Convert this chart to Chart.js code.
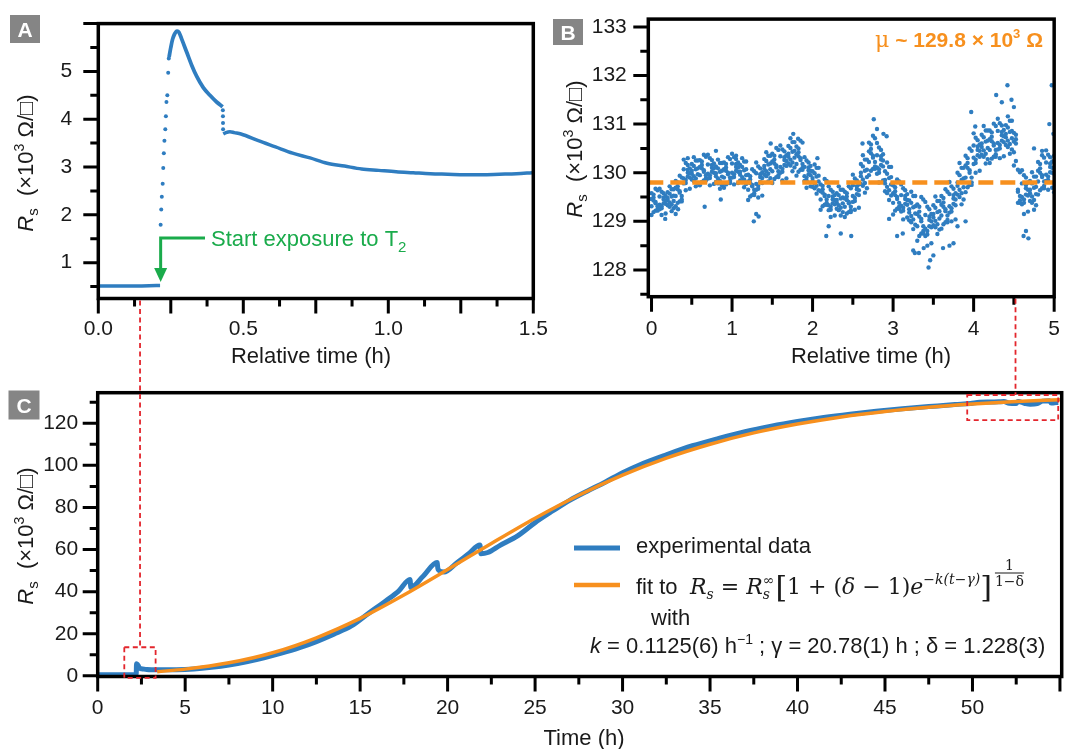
<!DOCTYPE html>
<html><head><meta charset="utf-8">
<script src="https://cdn.jsdelivr.net/npm/chart.js@4.4.1/dist/chart.umd.min.js"></script>
<style>
html,body{margin:0;padding:0;background:#fff;}
#wrap{position:relative;width:1065px;height:749px;overflow:hidden;background:#fff;}
#wrap canvas{position:absolute;left:0;top:0;}
</style></head><body>
<div id="wrap">
<canvas id="cA" width="1065" height="749"></canvas>
<canvas id="cB" width="1065" height="749"></canvas>
<canvas id="cC" width="1065" height="749"></canvas>
<canvas id="ov" width="1065" height="749"></canvas>
</div>
<script>
// ---------------- DATA ----------------
// Panel A : Rs (x10^3 ohm/sq) vs relative time (h)
const aFlatT  = [0, 0.05, 0.1, 0.15, 0.2, 0.213];
const aFlatRs = [0.51, 0.51, 0.51, 0.51, 0.52, 0.52];
const aRiseT  = [0.215,0.217,0.219,0.222,0.224,0.226,0.228,0.231,0.233,0.235,0.238,0.241,0.243];
const aRiseRs = [1.79,2.11,2.38,2.65,2.98,3.29,3.55,3.79,4.06,4.36,4.50,4.97,5.27];
const aPeakT  = [0.244,0.25,0.256,0.262,0.268,0.272,0.278,0.288,0.305,0.322,0.339,0.362,0.385,0.408,0.429];
const aPeakRs = [5.30,5.50,5.67,5.77,5.83,5.84,5.82,5.67,5.40,5.13,4.90,4.66,4.50,4.36,4.26];
const aDropT  = [0.4295,0.4298,0.4300,0.4303];
const aDropRs = [4.19,4.06,3.92,3.79];
const aTailT  = [0.431,0.44,0.454,0.469,0.492,0.552,0.611,0.670,0.730,0.789,0.849,0.908,0.967,1.027,1.086,1.145,1.205,1.264,1.323,1.383,1.442,1.496];
const aTailRs = [3.69,3.72,3.74,3.72,3.69,3.55,3.42,3.29,3.19,3.08,3.02,2.96,2.93,2.90,2.88,2.86,2.85,2.84,2.84,2.85,2.86,2.88];

// Panel B : Rs (x10^3 ohm/sq) vs relative time (h), four readings per time stamp + outliers
const bTime = [0,0.025,0.05,0.075,0.1,0.125,0.15,0.175,0.2,0.225,0.25,0.275,0.3,0.325,0.35,0.375,0.4,0.425,0.45,0.475,
0.5,0.525,0.55,0.575,0.6,0.625,0.65,0.675,0.7,0.725,0.75,0.775,0.8,0.825,0.85,0.875,0.9,0.925,0.95,0.975,
1,1.025,1.05,1.075,1.1,1.125,1.15,1.175,1.2,1.225,1.25,1.275,1.3,1.325,1.35,1.375,1.4,1.425,1.45,1.475,
1.5,1.525,1.55,1.575,1.6,1.625,1.65,1.675,1.7,1.725,1.75,1.775,1.8,1.825,1.85,1.875,1.9,1.925,1.95,1.975,
2,2.025,2.05,2.075,2.1,2.125,2.15,2.175,2.2,2.225,2.25,2.275,2.3,2.325,2.35,2.375,2.4,2.425,2.45,2.475,
2.5,2.525,2.55,2.575,2.6,2.625,2.65,2.675,2.7,2.725,2.75,2.775,2.8,2.825,2.85,2.875,2.9,2.925,2.95,2.975,
3,3.025,3.05,3.075,3.1,3.125,3.15,3.175,3.2,3.225,3.25,3.275,3.3,3.325,3.35,3.375,3.4,3.425,3.45,3.475,
3.5,3.525,3.55,3.575,3.6,3.625,3.65,3.675,3.7,3.725,3.75,3.775,3.8,3.825,3.85,3.875,3.9,3.925,3.95,3.975,
4,4.025,4.05,4.075,4.1,4.125,4.15,4.175,4.2,4.225,4.25,4.275,4.3,4.325,4.35,4.375,4.4,4.425,4.45,4.475,
4.5,4.525,4.55,4.575,4.6,4.625,4.65,4.675,4.7,4.725,4.75,4.775,4.8,4.825,4.85,4.875,4.9,4.925,4.95,4.975,5];
const bRsA = [129.46,129.19,129.67,129.31,129.25,129.61,129.37,129.52,129.60,129.39,129.21,129.66,129.69,129.38,129.94,129.52,129.78,130.20,129.92,130.09,
130.18,129.93,129.72,130.25,130.12,129.81,130.37,129.95,129.88,130.30,130.02,130.19,130.13,129.88,129.67,130.20,130.07,129.76,130.32,129.90,
129.90,130.32,130.04,130.21,130.16,129.91,129.70,130.23,129.82,129.51,130.07,129.65,129.65,130.13,129.81,130.01,130.28,130.03,129.82,130.35,
130.23,129.87,130.51,130.03,130.00,130.48,130.16,130.36,130.55,130.27,130.03,130.63,130.38,130.02,130.66,130.18,129.83,130.25,129.97,130.14,
130.03,129.78,129.57,130.10,129.62,129.31,129.87,129.45,129.23,129.65,129.37,129.54,129.58,129.33,129.12,129.65,129.47,129.16,129.72,129.30,
129.40,129.88,129.56,129.76,130.18,129.86,129.59,130.27,130.44,130.04,130.76,130.22,129.98,130.52,130.16,130.38,130.03,129.71,129.44,130.12,
129.58,129.22,129.86,129.38,129.20,129.68,129.36,129.56,129.43,129.11,128.84,129.52,129.15,128.70,129.50,128.90,128.70,129.30,128.90,129.15,
129.33,129.01,128.74,129.42,129.34,128.94,129.66,129.12,129.18,129.72,129.36,129.58,130.00,129.65,129.35,130.10,130.15,129.70,130.50,129.90,
130.18,130.72,130.36,130.58,130.78,130.46,130.19,130.87,130.69,130.29,131.01,130.47,130.48,131.02,130.66,130.88,130.98,130.66,130.39,131.07,
130.64,130.24,130.06,129.52,129.35,129.95,129.55,129.80,129.83,129.51,129.24,129.92,130.04,129.64,130.36,129.82,129.83,130.37,130.01,130.23,129.98];
const bRsB = [129.13,129.55,129.37,129.64,129.67,129.31,129.58,129.16,129.33,129.72,129.51,129.27,129.31,129.80,129.59,129.90,130.27,129.85,130.16,129.67,
129.86,130.32,130.07,129.79,129.74,130.23,130.02,130.33,130.37,129.95,130.26,129.77,129.81,130.27,130.02,129.74,129.69,130.18,129.97,130.28,
130.39,129.97,130.28,129.79,129.84,130.30,130.05,129.77,129.44,129.93,129.72,130.03,130.21,129.73,130.09,129.53,129.96,130.42,130.17,129.89,
129.79,130.35,130.11,130.47,130.56,130.08,130.44,129.88,130.19,130.71,130.43,130.11,129.94,130.50,130.26,130.62,130.32,129.90,130.21,129.72,
129.71,130.17,129.92,129.64,129.24,129.73,129.52,129.83,129.72,129.30,129.61,129.12,129.26,129.72,129.47,129.19,129.09,129.58,129.37,129.68,
129.96,129.48,129.84,129.28,129.77,130.36,130.04,129.68,129.95,130.58,130.31,130.71,130.61,130.07,130.47,129.84,129.62,130.21,129.89,129.53,
129.14,129.70,129.46,129.82,129.76,129.28,129.64,129.08,129.02,129.61,129.29,128.93,128.60,129.30,129.00,129.45,129.40,128.80,129.25,128.55,
128.92,129.51,129.19,128.83,128.85,129.48,129.21,129.61,129.81,129.27,129.67,129.04,129.55,130.20,129.85,129.45,129.60,130.30,130.00,130.45,
130.81,130.27,130.67,130.04,130.37,130.96,130.64,130.28,130.20,130.83,130.56,130.96,131.11,130.57,130.97,130.34,130.57,131.16,130.84,130.48,
130.15,130.78,129.61,130.01,130.05,129.45,129.90,129.20,129.42,130.01,129.69,129.33,129.55,130.18,129.91,130.31,130.46,129.92,130.32,129.69,130.35];
const bRsC = [129.58,129.43,129.22,129.25,129.34,129.13,129.49,129.43,129.48,129.30,129.66,129.42,129.83,129.66,129.41,129.45,129.88,129.64,130.06,129.99,
130.04,129.83,130.25,129.97,130.26,130.09,129.84,129.88,129.98,129.74,130.16,130.09,129.99,129.78,130.20,129.92,130.21,130.04,129.79,129.83,
130.00,129.76,130.18,130.11,130.02,129.81,130.23,129.95,129.96,129.79,129.54,129.58,129.77,129.49,129.97,129.89,130.14,129.93,130.35,130.07,
130.39,130.19,129.91,129.95,130.12,129.84,130.32,130.24,130.39,130.15,130.63,130.31,130.54,130.34,130.06,130.10,129.93,129.69,130.11,130.04,
129.89,129.68,130.10,129.82,129.76,129.59,129.34,129.38,129.33,129.09,129.51,129.44,129.44,129.23,129.65,129.37,129.61,129.44,129.19,129.23,
129.52,129.24,129.72,129.64,130.00,129.73,130.27,129.91,130.62,130.40,130.08,130.13,130.11,129.80,130.34,130.25,129.85,129.58,130.12,129.76,
129.74,129.54,129.26,129.30,129.32,129.04,129.52,129.44,129.25,128.98,129.52,129.16,129.35,129.10,128.75,128.80,128.85,128.50,129.10,129.00,
129.15,128.88,129.42,129.06,129.52,129.30,128.98,129.03,129.31,129.00,129.54,129.45,129.80,129.50,130.10,129.70,130.35,130.10,129.75,129.80,
130.31,130.00,130.54,130.45,130.60,130.33,130.87,130.51,130.87,130.65,130.33,130.38,130.61,130.30,130.84,130.75,130.80,130.53,131.07,130.71,
130.82,130.60,129.38,129.43,129.50,129.15,129.75,129.65,129.65,129.38,129.92,129.56,130.22,130.00,129.68,129.73,129.96,129.65,130.19,130.10,129.60];
const bRsD = [129.31,129.49,129.40,129.22,129.51,129.27,129.45,129.36,129.44,129.57,129.35,129.53,129.52,129.72,129.62,129.41,130.07,129.79,130.00,129.90,
129.98,130.14,129.88,130.09,129.95,130.16,130.05,129.84,130.17,129.89,130.10,130.00,129.93,130.09,129.83,130.04,129.90,130.11,130.00,129.79,
130.19,129.91,130.12,130.02,129.96,130.12,129.86,130.07,129.65,129.86,129.75,129.54,129.99,129.67,129.91,129.79,130.08,130.24,129.98,130.19,
130.03,130.27,130.15,129.91,130.34,130.02,130.26,130.14,130.33,130.51,130.21,130.45,130.18,130.42,130.30,130.06,130.12,129.84,130.05,129.95,
129.83,129.99,129.73,129.94,129.45,129.66,129.55,129.34,129.52,129.24,129.45,129.35,129.38,129.54,129.28,129.49,129.30,129.51,129.40,129.19,
129.74,129.42,129.66,129.54,129.93,130.13,129.79,130.06,130.22,130.49,130.35,130.08,130.36,130.00,130.27,130.13,129.78,129.98,129.64,129.91,
129.38,129.62,129.50,129.26,129.54,129.22,129.46,129.34,129.18,129.38,129.04,129.31,128.90,129.20,129.05,128.75,129.13,128.73,129.03,128.88,
129.08,129.28,128.94,129.21,129.12,129.39,129.25,128.98,129.56,129.20,129.47,129.33,129.73,129.95,129.58,129.88,129.90,130.20,130.05,129.75,
130.56,130.20,130.47,130.33,130.53,130.73,130.39,130.66,130.47,130.74,130.60,130.33,130.86,130.50,130.77,130.63,130.73,130.93,130.59,130.86,
130.42,130.69,129.65,129.38,129.78,129.38,129.68,129.53,129.58,129.78,129.44,129.71,129.82,130.09,129.95,129.68,130.21,129.85,130.12,130.00,130.10];
const bOutT  = [0.17,0.30,0.33,0.45,0.66,0.80,0.86,1.05,1.27,1.30,1.33,1.48,1.76,1.82,2.06,2.17,2.20,2.35,2.48,2.62,2.76,2.80,2.88,2.92,2.95,3.05,3.12,3.25,3.27,3.32,3.38,3.44,3.46,3.50,3.62,3.70,3.75,3.80,3.90,3.97,4.02,4.28,4.35,4.42,4.47,4.50,4.62,4.65,4.68,4.75,4.85,4.94,4.97,4.99];
const bOutRs = [129.05,129.15,129.25,130.30,129.30,130.45,129.45,130.35,129.00,129.15,129.10,130.60,130.80,130.70,130.30,128.70,128.90,128.75,128.70,130.60,131.10,130.90,130.80,130.75,129.05,128.70,128.75,128.40,128.35,128.35,128.45,128.05,128.20,128.30,128.45,128.50,128.55,128.90,129.00,131.25,130.95,131.60,131.45,131.80,131.50,131.35,128.70,128.80,128.65,130.50,130.45,131.00,131.80,130.80];
const bMean = 129.8;

// Panel C : Rs (x10^3 ohm/sq) vs time (h)
const cExpT  = [0,1,2,2.2,2.22,2.27,2.35,2.37,2.5,2.8,3.2,3.7,4.5,5.5,6.5,7.5,8.5,9.5,10.5,11.5,12.5,13.5,14.5,15.5,16.5,17.2,17.85,17.9,18.6,19.4,19.45,19.8,20.5,21.2,21.85,21.9,22.3,23,24,25,26,27,28,29,30,31,32.5,34,35.5,37,38.5,40,41.5,43,44.5,46,47.5,49,49.9,50.4,51,51.5,51.8,52.1,52.5,52.6,53,53.3,53.7,54,54.4,54.5,54.9];
const cExpRs = [0.5,0.5,0.5,0.5,5.8,5.4,4.3,3.7,3.4,3.0,2.9,2.85,2.9,3.3,4.1,5.2,6.7,8.6,10.8,13.3,16.3,19.8,23.7,29.8,35.8,40.3,45.8,42.0,47.3,53.8,50.5,49.3,53.5,58.0,62.2,58.0,58.6,62.0,66.5,72.8,78.3,83.5,87.8,92.0,96.5,100.3,105.0,109.3,112.8,116.0,118.6,120.8,122.7,124.3,125.7,126.9,127.9,128.9,129.4,130.0,130.05,130.15,130.3,129.5,129.4,130.35,129.4,129.0,129.3,130.5,130.7,129.6,130.0];
const cFitT  = [3.4,5,7.5,10,12.5,15,17.5,20,22.5,25,27.5,30,32.5,35,37.5,40,42.5,45,47.5,50,52.5,55];
const cFitRs = [2.0,3.2,6.2,11.0,18.1,27.3,38.4,50.5,62.9,74.9,85.8,95.3,103.4,110.0,115.4,119.6,123.0,125.6,127.6,129.1,130.3,131.2];

// zoom markers (data coordinates)
const markSmall = {t0:1.52, t1:3.31, r0:-1.0, r1:13.6, tLine:2.42};
const markLarge = {t0:49.7, t1:54.9, r0:121.5, r1:133.4, tB:4.52};

// ---------------- STYLE / LAYOUT ----------------
const W = 1065, H = 749;
const SANS = '"Liberation Sans", Arial, "DejaVu Sans", sans-serif';
const SERIF = '"DejaVu Serif", "Liberation Serif", serif';
const BLUE = '#2f7dc0', ORANGE = '#f7901e', GREEN = '#1aab4b', RED = '#e3262d', INK = '#1a1a1a';
const YW = 90, XH = 40;
const boxA = {L:98.3, R:533.3, T:14, B:298.5};
const boxB = {L:648.3, R:1060, T:14, B:296.7};
const boxC = {L:97.7, R:1061.7, T:392.7, B:676.5};

function pts(xs, ys) { return xs.map((x, i) => ({x: x, y: ys[i]})); }
function isMult(v, m) { return Math.abs(v / m - Math.round(v / m)) < 1e-6; }
function makeTicks(c) {
  const out = []; const n = Math.round((c.to - c.from) / c.step);
  for (let i = 0; i <= n; i++) { const v = c.from + i * c.step; out.push({v: v, major: isMult(v, c.major)}); }
  return out;
}

const frameTicks = {
  id: 'frameTicks',
  afterDatasetsDraw(chart, args, o) {
    const ctx = chart.ctx, a = chart.chartArea, sx = chart.scales.x, sy = chart.scales.y;
    ctx.save();
    ctx.strokeStyle = '#000'; ctx.lineWidth = 3; ctx.lineCap = 'butt';
    ctx.beginPath();
    for (const t of makeTicks(o.x)) { const p = sx.getPixelForValue(t.v); ctx.moveTo(p, a.bottom); ctx.lineTo(p, a.bottom + (t.major ? 15 : 8)); }
    for (const t of makeTicks(o.y)) { const p = sy.getPixelForValue(t.v); ctx.moveTo(a.left, p); ctx.lineTo(a.left - (t.major ? 15 : 8), p); }
    ctx.stroke();
    ctx.lineWidth = 3.5;
    ctx.strokeRect(a.left, a.top, a.right - a.left, a.bottom - a.top);
    ctx.restore();
  }
};

function scalesFor(c) {
  return {
    x: { type: 'linear', min: c.xmin, max: c.xmax,
      grid: {display: false, drawTicks: true, tickLength: 15}, border: {display: false},
      ticks: {stepSize: c.xstep, autoSkip: false, includeBounds: false, maxRotation: 0, maxTicksLimit: 100, padding: c.xpad,
        color: INK, font: {family: SANS, size: 21}, callback: c.xlab},
      afterFit(s) { s.height = XH; } },
    y: { type: 'linear', min: c.ymin, max: c.ymax,
      grid: {display: false, drawTicks: true, tickLength: 15}, border: {display: false},
      ticks: {stepSize: c.ystep, autoSkip: false, includeBounds: false, maxTicksLimit: 100, padding: c.ypad,
        color: INK, font: {family: SANS, size: 21}, callback: c.ylab},
      afterFit(s) { s.width = YW; } }
  };
}
function layoutFor(b) {
  return {padding: {left: b.L - YW, right: W - b.R, top: b.T, bottom: H - b.B - XH}};
}
const baseOpts = {responsive: false, animation: false, devicePixelRatio: 1,
  plugins: {legend: {display: false}, tooltip: {enabled: false}}, events: []};

// ---------------- PANEL A ----------------
const chartA = new Chart(document.getElementById('cA'), {
  type: 'scatter',
  data: {datasets: [
    {data: pts(aFlatT, aFlatRs), showLine: true, borderColor: BLUE, borderWidth: 3.5, pointRadius: 0},
    {data: pts(aRiseT, aRiseRs), backgroundColor: BLUE, borderWidth: 0, pointRadius: 2},
    {data: pts(aPeakT, aPeakRs), showLine: true, cubicInterpolationMode: 'monotone', borderColor: BLUE, borderWidth: 3.8, pointRadius: 0},
    {data: pts(aDropT, aDropRs), backgroundColor: BLUE, borderWidth: 0, pointRadius: 2},
    {data: pts(aTailT, aTailRs), showLine: true, cubicInterpolationMode: 'monotone', borderColor: BLUE, borderWidth: 3.5, pointRadius: 0}
  ]},
  options: Object.assign({}, baseOpts, {
    layout: layoutFor(boxA),
    scales: scalesFor({xmin: 0, xmax: 1.5, xstep: 0.5, xpad: 3,
      xlab: v => (v >= -1e-9 && v <= 1.5 + 1e-9 && isMult(v, 0.5)) ? v.toFixed(1) : '',
      ymin: 0.25, ymax: 6.0, ystep: 1, ypad: 11,
      ylab: v => (v >= 1 && v <= 5 && isMult(v, 1)) ? String(Math.round(v)) : ''}),
    plugins: Object.assign({}, baseOpts.plugins, {frameTicks: {x: {from: 0, to: 1.5, step: 0.125, major: 0.25}, y: {from: 0.5, to: 6, step: 0.5, major: 1}}})
  }),
  plugins: [frameTicks]
});

// ---------------- PANEL B ----------------
const bPointStyle = {backgroundColor: BLUE, borderWidth: 0, pointRadius: 2.2, order: 1};
const chartB = new Chart(document.getElementById('cB'), {
  type: 'scatter',
  data: {datasets: [
    {data: [{x: -0.04, y: bMean}, {x: 5, y: bMean}], showLine: true, borderColor: ORANGE, borderWidth: 4.5, borderDash: [15, 7], pointRadius: 0, order: 0},
    Object.assign({data: pts(bTime, bRsA)}, bPointStyle),
    Object.assign({data: pts(bTime, bRsB)}, bPointStyle),
    Object.assign({data: pts(bTime, bRsC)}, bPointStyle),
    Object.assign({data: pts(bTime, bRsD)}, bPointStyle),
    Object.assign({data: pts(bOutT, bOutRs)}, bPointStyle)
  ]},
  options: Object.assign({}, baseOpts, {
    layout: layoutFor(boxB),
    scales: scalesFor({xmin: -0.04, xmax: 5, xstep: 1, xpad: 5,
      xlab: v => (v >= -1e-9 && isMult(v, 1)) ? String(Math.round(v)) : '',
      ymin: 127.45, ymax: 133.16, ystep: 1, ypad: 6.5,
      ylab: v => (v >= 128 - 1e-9 && v <= 133 + 1e-9 && isMult(v, 1)) ? String(Math.round(v)) : ''}),
    plugins: Object.assign({}, baseOpts.plugins, {frameTicks: {x: {from: 0, to: 5, step: 0.5, major: 1}, y: {from: 127.5, to: 133, step: 0.5, major: 1}}})
  }),
  plugins: [frameTicks]
});

// ---------------- PANEL C ----------------
const chartC = new Chart(document.getElementById('cC'), {
  type: 'scatter',
  data: {datasets: [
    {label: 'fit', data: pts(cFitT, cFitRs), showLine: true, cubicInterpolationMode: 'monotone', borderColor: ORANGE, borderWidth: 3.5, pointRadius: 0, order: 0},
    {label: 'experimental data', data: pts(cExpT, cExpRs), showLine: true, cubicInterpolationMode: 'monotone', borderColor: BLUE, borderWidth: 5, pointRadius: 0, order: 1}
  ]},
  options: Object.assign({}, baseOpts, {
    layout: layoutFor(boxC),
    scales: scalesFor({xmin: 0, xmax: 55.1, xstep: 5, xpad: 4,
      xlab: v => (v >= -1e-9 && v <= 50 + 1e-9 && isMult(v, 5)) ? String(Math.round(v)) : '',
      ymin: -0.3, ymax: 134.5, ystep: 20, ypad: 4.5,
      ylab: v => (v >= -1e-9 && v <= 120 + 1e-9 && isMult(v, 20)) ? String(Math.round(v)) : ''}),
    plugins: Object.assign({}, baseOpts.plugins, {frameTicks: {x: {from: 0, to: 55, step: 2.5, major: 5}, y: {from: 0, to: 130, step: 10, major: 20}}})
  }),
  plugins: [frameTicks]
});

// ---------------- OVERLAY: labels, titles, annotations ----------------
const ov = document.getElementById('ov').getContext('2d');
ov.textBaseline = 'alphabetic';

function richWidth(parts) { let w = 0; for (const p of parts) { ov.font = p.f; w += ov.measureText(p.t).width; } return w; }
function rich(x, y, parts, align, color) {
  const w = richWidth(parts);
  let cx = align === 'center' ? x - w / 2 : align === 'right' ? x - w : x;
  ov.fillStyle = color;
  for (const p of parts) { ov.font = p.f; ov.fillText(p.t, cx, y + (p.dy || 0)); cx += ov.measureText(p.t).width; }
}

// panel letters
function letter(ch, x, y, w, h) {
  ov.fillStyle = '#858585'; ov.fillRect(x, y, w, h);
  ov.fillStyle = '#fff'; ov.font = 'bold 21px ' + SANS; ov.textAlign = 'center';
  ov.fillText(ch, x + w / 2, y + h / 2 + 7.5); ov.textAlign = 'left';
}
letter('A', 10, 15, 30, 28);
letter('B', 553, 19, 30, 26);
letter('C', 8.5, 390.5, 31, 29);

// y-axis titles
const yTitle = [
  {t: 'R', f: 'italic 22px ' + SANS},
  {t: 's', f: '15px ' + SANS, dy: 5},
  {t: '  (\u00d710', f: '22px ' + SANS},
  {t: '3', f: '14px ' + SANS, dy: -9},
  {t: ' \u03a9/\u25a1)', f: '22px ' + SANS}
];
function yTitleAt(x, y) {
  ov.save(); ov.translate(x, y); ov.rotate(-Math.PI / 2);
  rich(0, 0, yTitle, 'center', INK); ov.restore();
}
yTitleAt(33, 163);
yTitleAt(582, 149);
yTitleAt(33, 536);

// x-axis titles
rich(311, 363, [{t: 'Relative time (h)', f: '22px ' + SANS}], 'center', INK);
rich(871, 363, [{t: 'Relative time (h)', f: '22px ' + SANS}], 'center', INK);
rich(584, 745, [{t: 'Time (h)', f: '22px ' + SANS}], 'center', INK);

// green arrow + text (panel A)
(function () {
  const x0 = chartA.scales.x.getPixelForValue(0.215);
  ov.strokeStyle = GREEN; ov.fillStyle = GREEN; ov.lineWidth = 3;
  ov.beginPath(); ov.moveTo(205, 238); ov.lineTo(x0, 238); ov.lineTo(x0, 270); ov.stroke();
  ov.beginPath(); ov.moveTo(x0 - 6.5, 268); ov.lineTo(x0 + 6.5, 268); ov.lineTo(x0, 282); ov.closePath(); ov.fill();
  rich(211, 246, [{t: 'Start exposure to T', f: '22px ' + SANS}, {t: '2', f: '15px ' + SANS, dy: 6}], 'left', GREEN);
})();

// mean annotation (panel B)
rich(1043, 47, [
  {t: '\u03bc', f: '22px ' + SERIF},
  {t: ' ~ 129.8 \u00d7 10', f: 'bold 21px ' + SANS},
  {t: '3', f: 'bold 13px ' + SANS, dy: -9},
  {t: ' \u03a9', f: 'bold 21px ' + SANS}
], 'right', ORANGE);

// legend (panel C)
(function () {
  ov.lineCap = 'butt';
  ov.strokeStyle = BLUE; ov.lineWidth = 5;
  ov.beginPath(); ov.moveTo(574, 548); ov.lineTo(620, 548); ov.stroke();
  ov.strokeStyle = ORANGE; ov.lineWidth = 4.5;
  ov.beginPath(); ov.moveTo(574, 585); ov.lineTo(620, 585); ov.stroke();
  rich(636, 553, [{t: 'experimental data', f: '22px ' + SANS}], 'left', INK);
  rich(636, 594, [{t: 'fit to', f: '22px ' + SANS}], 'left', INK);
  // formula
  let x = 690; const base = 594;
  ov.fillStyle = INK;
  const M = 'italic 22px ' + SERIF, U = '22px ' + SERIF, S = 'italic 14px ' + SERIF, SU = '14px ' + SERIF, BIG = '30px ' + SERIF;
  function put(t, f, dy) { ov.font = f; ov.fillText(t, x, base + (dy || 0)); x += ov.measureText(t).width; }
  put('R', M); put('s', S, 5); put(' = ', U); put('R', M);
  ov.font = SU; const wInf = ov.measureText('\u221e').width; ov.fillText('\u221e', x, base - 9);
  ov.font = S; ov.fillText('s', x, base + 5); x += wInf + 1;
  put('[', BIG, 3); put('1 + (', U); put('\u03b4', M); put(' \u2212 1)', U); put('e', M);
  put('\u2212k(t\u2212\u03b3)', S, -10); put(']', BIG, 3);
  // exponent fraction
  ov.font = SU; const wd = ov.measureText('1\u2212\u03b4').width; const fx = x + 3;
  ov.textAlign = 'center';
  ov.fillText('1', fx + wd / 2, base - 24);
  ov.fillText('1\u2212\u03b4', fx + wd / 2, base - 8);
  ov.textAlign = 'left';
  ov.fillRect(fx, base - 21.5, wd, 1);
  rich(651, 625, [{t: 'with', f: '22px ' + SANS}], 'left', INK);
  rich(590, 653, [
    {t: 'k', f: 'italic 22px ' + SANS},
    {t: ' = 0.1125(6) h', f: '22px ' + SANS},
    {t: '\u22121', f: '14px ' + SANS, dy: -9},
    {t: ' ; \u03b3 = 20.78(1) h ; \u03b4 = 1.228(3)', f: '22px ' + SANS}
  ], 'left', INK);
})();

// red zoom markers
(function () {
  const cx = chartC.scales.x, cy = chartC.scales.y;
  ov.strokeStyle = RED; ov.lineWidth = 1.8; ov.setLineDash([5, 3.5]);
  function box(m) {
    const x0 = cx.getPixelForValue(m.t0), x1 = cx.getPixelForValue(m.t1);
    const y0 = cy.getPixelForValue(m.r1), y1 = cy.getPixelForValue(m.r0);
    ov.strokeRect(x0, y0, x1 - x0, y1 - y0); return y0;
  }
  const ys = box(markSmall), yl = box(markLarge);
  const xs = cx.getPixelForValue(markSmall.tLine);
  ov.beginPath(); ov.moveTo(xs, chartA.chartArea.bottom + 2); ov.lineTo(xs, ys); ov.stroke();
  const xl = chartB.scales.x.getPixelForValue(markLarge.tB);
  ov.beginPath(); ov.moveTo(xl, chartB.chartArea.bottom + 2); ov.lineTo(xl, yl); ov.stroke();
  ov.setLineDash([]);
})();
</script>
</body></html>
